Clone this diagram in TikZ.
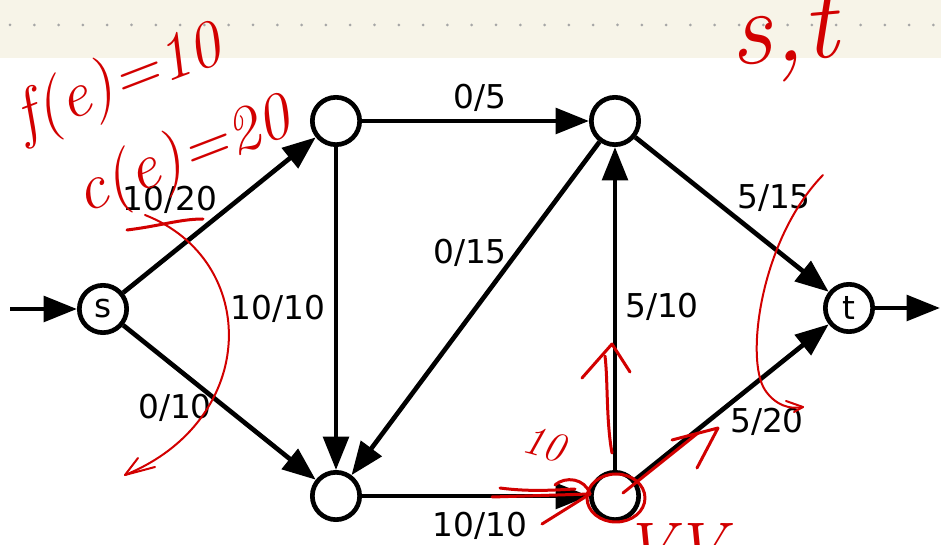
\documentclass[tikz,border=0pt]{standalone}
\usepackage{fontspec}
\usepackage{xcolor}
\usepackage{tikz}
\usetikzlibrary{arrows.meta, positioning, calc}
\newfontfamily\labelfont{DejaVu Sans}
\definecolor{paper}{HTML}{F7F4E8}
\definecolor{pen}{HTML}{D20000}

\begin{document}
\begin{tikzpicture}[x=0.03cm, y=-0.03cm, >={Triangle[length=1cm, width=0.76cm]}]
    \tikzstyle{vertex} = [circle, draw, line width=0.14cm, minimum size=1.42cm, inner sep=0pt, fill=white, font=\labelfont\fontsize{28}{30}\selectfont]
    \tikzstyle{flow} = [->, line width=0.14cm]
    \tikzstyle{weight} = [font=\labelfont\fontsize{28}{30}\selectfont, inner sep=0pt]
    \tikzstyle{ink} = [draw=pen, line width=0.09cm, line cap=round, line join=round]
    \tikzstyle{thinink} = [draw=pen, line width=0.06cm, line cap=round, line join=round]
    \tikzstyle{scrawl} = [text=pen, font=\itshape\fontsize{56}{56}\selectfont, inner sep=0pt]

    % page
    \useasboundingbox (0,0) rectangle (941,545);
    \clip (0,0) rectangle (941,545);
    \fill[white] (0,0) rectangle (941,545);
    \fill[paper] (0,0) rectangle (941,58);
    \foreach \k in {0,...,38}
        \fill[gray!70] (10+24.3*\k,25) circle (0.045cm);

    % network
    \node [vertex] (s) at (103,309) {s};
    \node [vertex] (a) at (336,121) {};
    \node [vertex] (b) at (615,121) {};
    \node [vertex] (c) at (336,496) {};
    \node [vertex] (d) at (615,496) {};
    \node [vertex] (t) at (849,308) {t};
    \coordinate (src) at (10,309);
    \coordinate (snk) at (940,308);

    \draw [flow] (src) -- (s);
    \draw [flow] (s) -- (a);
    \draw [flow] (s) -- (c);
    \draw [flow] (a) -- (b);
    \draw [flow] (a) -- (c);
    \draw [flow] (b) -- (c);
    \draw [flow] (d) -- (b);
    \draw [flow] (b) -- (t);
    \draw [flow] (c) -- (d);
    \draw [flow] (d) -- (t);
    \draw [flow] (t) -- (snk);

    \node [weight] (fsa) at (170,200) {10/20};
    \node [weight] (fac) at (278,309) {10/10};
    \node [weight] (fsc) at (175,408) {0/10};
    \node [weight] (fab) at (480,98) {0/5};
    \node [weight] (fbc) at (470,253) {0/15};
    \node [weight] (fdb) at (662,307) {5/10};
    \node [weight] (fbt) at (774,198) {5/15};
    \node [weight] (fdt) at (767,422) {5/20};
    \node [weight] (fcd) at (480,526) {10/10};

    % handwritten notes
    \node [scrawl, anchor=base west, rotate=21] (nf) at (24,138) {f(e)=10};
    \node [scrawl, anchor=base west, rotate=21] (nc) at (84,214) {c(e)=20};
    \node [scrawl, anchor=base west, rotate=5, font=\itshape\fontsize{90}{90}\selectfont] (nst) at (732,66) {s,t\raisebox{.45em}{=}};
    \node [scrawl, rotate=-15, font=\itshape\fontsize{36}{36}\selectfont] (nten) at (544,444) {10};
    \node [scrawl, anchor=base west, font=\itshape\fontsize{60}{60}\selectfont] (nvv) at (622,572) {VV};

    \draw [ink] (127,230) .. controls (160,226) and (180,219) .. (203,219);
    \draw [thinink] (145,215) .. controls (260,260) and (260,420) .. (125,475);
    \draw [thinink] (138,458) -- (125,475) -- (155,467);
    \draw [thinink] (823,175) .. controls (760,240) and (745,360) .. (765,390)
                    .. controls (775,405) and (790,410) .. (803,407);
    \draw [thinink] (786,401) -- (803,407) -- (794,412);
    \draw [ink] (612,453) .. controls (606,420) and (608,380) .. (605,356);
    \draw [ink] (582,378) -- (612,344) -- (630,372);
    \draw [ink] (492,497) -- (590,494);
    \draw [ink] (500,488) .. controls (530,492) and (555,490) .. (575,489);
    \draw [ink] (542,524) -- (590,494);
    \draw [ink] (555,485) .. controls (565,476) and (585,478) .. (590,494);
    \draw [ink] (616,498) ellipse [x radius=29, y radius=24];
    \draw [ink] (623,493) -- (698,433);
    \draw [ink] (672,440) -- (718,428) -- (697,468);
\end{tikzpicture}
\end{document}
